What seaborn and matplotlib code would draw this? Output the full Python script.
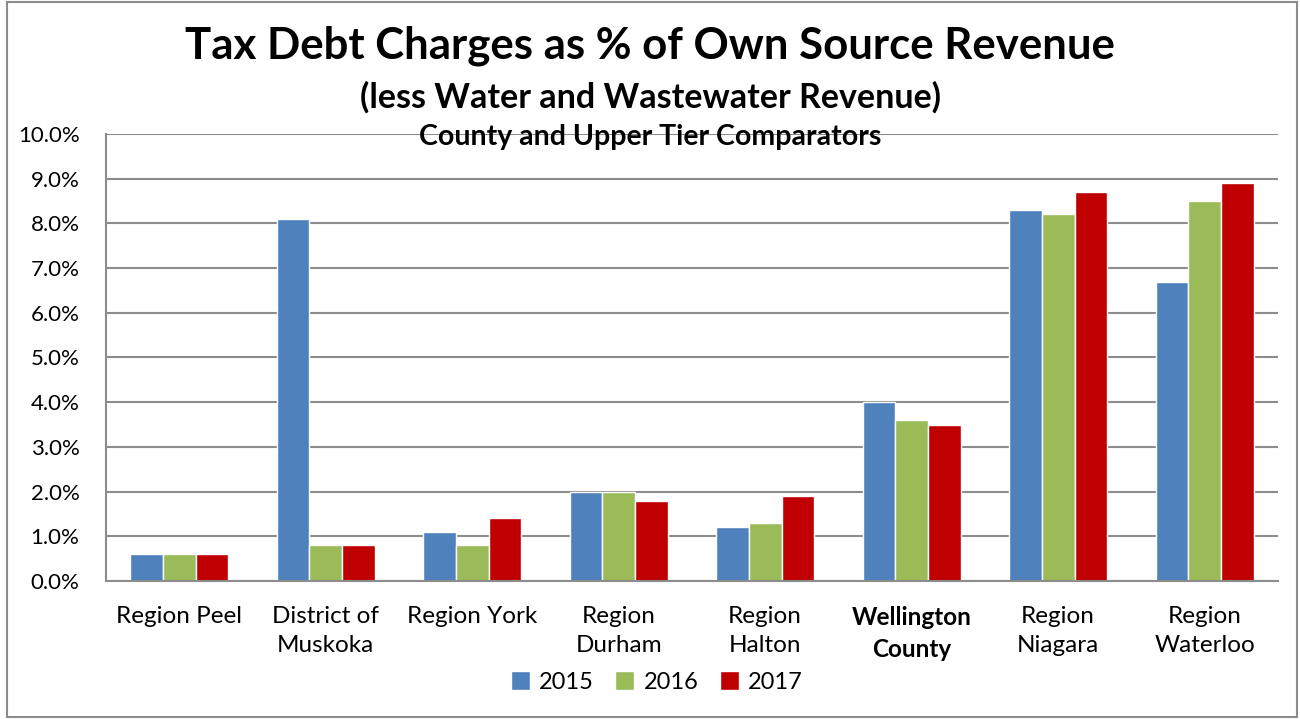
import matplotlib
matplotlib.use("Agg")
import matplotlib.pyplot as plt
from matplotlib.patches import Rectangle
from matplotlib.ticker import FuncFormatter, MultipleLocator
import pandas as pd
import seaborn as sns

categories = ["Region Peel", "District of\nMuskoka", "Region York", "Region\nDurham",
              "Region\nHalton", "Wellington\nCounty", "Region\nNiagara", "Region\nWaterloo"]
years = ["2015", "2016", "2017"]
v2015 = [0.6, 8.1, 1.1, 2.0, 1.2, 4.0, 8.3, 6.7]
v2016 = [0.6, 0.8, 0.8, 2.0, 1.3, 3.6, 8.2, 8.5]
v2017 = [0.6, 0.8, 1.4, 1.8, 1.9, 3.5, 8.7, 8.9]
colors = ["#4F81BD", "#9BBB59", "#C00000"]

rows = []
for yr, vals in zip(years, [v2015, v2016, v2017]):
    for cat, v in zip(categories, vals):
        rows.append({"region": cat, "year": yr, "pct": v})
df = pd.DataFrame(rows)

sns.set_style("white")
plt.rcParams["font.family"] = ["Lato", "DejaVu Sans"]
plt.rcParams["text.color"] = "black"
plt.rcParams["xtick.labelcolor"] = "black"
plt.rcParams["ytick.labelcolor"] = "black"

fig = plt.figure(figsize=(13, 7.19), dpi=100)
ax = fig.add_axes([0.0815, 0.192, 0.9015, 0.6216])

sns.barplot(data=df, x="region", y="pct", hue="year", order=categories,
            hue_order=years, palette=colors, width=0.67, gap=0,
            saturation=1, errorbar=None, ax=ax)

ax.set_xlim(-0.5, len(categories) - 0.5)
ax.set_ylim(0, 10)
ax.yaxis.set_major_locator(MultipleLocator(1))
ax.yaxis.set_major_formatter(FuncFormatter(lambda v, _: f"{v:.1f}%"))
ax.grid(axis="y", color="#8c8c8c", linewidth=1.5)
ax.set_axisbelow(True)
ax.set_xlabel("")
ax.set_ylabel("")

for side in ["top", "right"]:
    ax.spines[side].set_visible(False)
for side in ["left", "bottom"]:
    ax.spines[side].set_color("#8c8c8c")
    ax.spines[side].set_linewidth(1.5)

ax.tick_params(axis="y", direction="out", length=8, width=1.5, color="#8c8c8c",
               labelsize=16, pad=11)
# x ticks sit on the category boundaries, labels at centers
ax.set_xticks([i - 0.5 for i in range(len(categories) + 1)], minor=False)
ax.set_xticklabels([])
ax.set_xticks(range(len(categories)), minor=True)
ax.set_xticklabels(categories, minor=True, fontsize=17.5, linespacing=1.45)
ax.tick_params(axis="x", which="major", direction="out", length=8, width=1.5,
               color="#8c8c8c")
ax.tick_params(axis="x", which="minor", length=0, pad=18)
for lab in ax.get_xticklabels(minor=True):
    if lab.get_text().startswith("Wellington"):
        lab.set_fontweight("bold")

ax.legend(loc="upper center", bbox_to_anchor=(0.47, -0.155), ncol=3, frameon=False,
          fontsize=17, handlelength=0.8, handleheight=0.8, handletextpad=0.4,
          columnspacing=0.9)

fig.text(0.5, 0.937, "Tax Debt Charges as % of Own Source Revenue", ha="center",
         va="center", fontsize=31.5, fontweight="bold")
fig.text(0.5, 0.865, "(less Water and Wastewater Revenue)", ha="center",
         va="center", fontsize=24.5, fontweight="bold")
fig.text(0.5, 0.809, "County and Upper Tier Comparators", ha="center",
         va="center", fontsize=20.5, fontweight="bold")

fig.patches.append(Rectangle((0.005, 0.003), 0.993, 0.994, transform=fig.transFigure,
                             fill=False, edgecolor="#8c8c8c", linewidth=1.5))

fig.savefig("out.png", dpi=100)
